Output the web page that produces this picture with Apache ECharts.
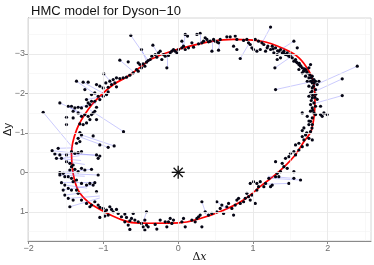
<!DOCTYPE html>
<html><head><meta charset="utf-8">
<script src="https://cdn.jsdelivr.net/npm/echarts@6/dist/echarts.min.js"></script>
<style>html,body{margin:0;padding:0;background:#fff}#c{width:374px;height:265px}</style>
</head><body><div id="c"></div>
<script>
const chartTitle = 'HMC model for Dyson\u221210';
const xTicks = [-2, -1, 0, 1, 2];
const yTicks = [-3, -2, -1, 0, 1];
const xMinor = [-1.5, -0.5, 0.5, 1.5, 2.5];
const yMinor = [-3.5, -2.5, -1.5, -0.5, 0.5, 1.5];

// fitted orbit
const orbitX = [-0.375,-0.151,0.116,0.45,0.740,1.12,1.436,1.616,1.75,1.817,1.83,1.784,1.683,1.549,1.348,1.124,0.874,0.606,0.295,0.004,-0.375,-0.58,-0.80,-1.027,-1.205,-1.339,-1.406,-1.428,-1.361,-1.205,-1.071,-0.870,-0.669,-0.375];
const orbitY = [-2.86,-3.03,-3.18,-3.32,-3.37,-3.32,-3.11,-2.90,-2.56,-2.22,-1.80,-1.07,-0.78,-0.40,-0.015,0.32,0.70,0.96,1.17,1.28,1.29,1.28,1.17,0.96,0.75,0.45,0.025,-0.48,-1.07,-1.59,-1.886,-2.22,-2.44,-2.86];

// observations
const obs = [
[-0.634,-3.468],[-0.491,-3.112],[-0.781,-2.842],[-0.669,-2.799],[-0.535,-2.774],[-0.513,-2.732],[-0.469,-2.748],[-0.424,-2.791],[-0.402,-2.833],[-0.446,-2.689],[-0.491,-2.647],[-0.558,-2.605],[-0.535,-2.562],[-0.602,-2.520],[-0.647,-2.461],[-0.692,-2.410],[-0.736,-2.393],[-0.781,-2.376],[-0.995,-2.495],[-0.826,-2.393],[-0.870,-2.351],[-0.848,-2.266],[-0.915,-2.309],[-0.892,-2.224],[-0.937,-2.156],[-0.826,-2.165],[-0.968,-2.266],[-1.004,-2.139],[-1.049,-2.182],[-1.093,-2.224],[-1.361,-2.309],[-1.272,-2.283],[-1.205,-2.283],[-1.249,-2.097],[-1.160,-1.970],[-1.116,-2.012],[-1.071,-1.928],[-1.004,-1.928],[-0.959,-1.970],[-0.937,-2.038],[-1.584,-1.759],[-1.472,-1.674],[-1.428,-1.674],[-1.383,-1.632],[-1.339,-1.649],[-1.294,-1.632],[-1.227,-1.674],[-1.182,-1.716],[-1.160,-1.801],[-1.227,-1.843],[-1.205,-1.759],[-1.116,-1.801],[-1.049,-1.843],[-1.093,-1.649],[-1.116,-1.547],[-1.138,-1.505],[-1.807,-1.522],[-1.406,-1.547],[-1.339,-1.505],[-1.294,-1.420],[-1.249,-1.463],[-1.205,-1.420],[-1.160,-1.463],[-1.093,-1.336],[-1.182,-1.336],[-1.227,-1.251],[-1.272,-1.209],[-1.317,-1.226],[-1.495,-1.395],[-1.406,-1.378],[-1.495,-1.209],[-0.732,-1.03],
[-0.339,-3.222],[-0.375,-2.858],[-0.353,-2.943],[-0.308,-2.985],[-0.286,-2.918],[-0.263,-3.028],[-0.241,-3.070],[-0.219,-2.858],[-0.196,-2.985],[-0.174,-2.943],[-0.130,-2.960],[-0.152,-2.647],[-0.107,-3.028],[-0.085,-3.070],[-0.063,-3.112],[-0.040,-3.070],[-0.018,-3.028],[0.004,-3.112],[0.049,-3.324],[0.049,-3.155],[0.071,-3.197],[0.094,-3.493],[0.125,-3.451],[0.094,-3.112],[0.138,-3.155],[0.183,-3.281],[0.205,-3.172],[0.250,-3.493],[0.294,-3.518],[0.272,-3.256],[0.317,-3.281],[0.339,-3.324],[0.361,-3.409],[0.384,-3.366],[0.406,-3.307],[0.428,-3.324],[0.451,-3.070],[0.473,-3.366],[0.495,-3.324],[0.517,-3.307],[0.540,-3.281],[0.540,-3.095],[0.562,-3.366],[0.651,-3.434],[0.696,-3.434],[0.763,-3.451],[0.785,-3.366],[0.741,-3.197],[0.785,-3.112],[0.830,-2.884],[0.875,-3.341],[0.919,-3.366],[0.941,-3.281],[0.964,-3.239],[0.986,-3.155],[1.008,-3.112],[1.031,-3.366],[1.053,-3.070],[1.075,-3.324],[1.098,-3.112],[1.120,-3.281],
[1.236,-3.679],[1.548,-3.324],[1.593,-3.155],[1.146,-3.239],[1.191,-3.155],[1.169,-3.070],[1.236,-3.112],[1.258,-3.197],[1.303,-3.155],[1.280,-3.028],[1.325,-2.985],[1.347,-3.070],[1.369,-3.112],[1.392,-3.028],[1.414,-3.070],[1.436,-2.985],[1.459,-3.028],[1.481,-2.943],[1.325,-2.858],[1.369,-2.901],[1.503,-2.985],[1.526,-2.901],[1.548,-2.816],[1.570,-2.858],[1.593,-2.774],[1.615,-2.731],[1.637,-2.689],[1.660,-2.647],[1.615,-2.605],[1.682,-2.562],[1.704,-2.605],[1.726,-2.520],[1.749,-2.647],[1.771,-2.731],[1.660,-2.520],[1.704,-2.435],[1.749,-2.393],[1.794,-2.435],[1.816,-2.351],[1.838,-2.308],[1.883,-2.308],[1.860,-2.224],[1.794,-2.266],[1.771,-2.308],[1.727,-2.308],[1.749,-2.182],[1.794,-2.139],[1.838,-2.097],[1.771,-2.012],[1.749,-1.928],[1.794,-1.886],[1.816,-1.759],[1.771,-1.716],[1.794,-1.632],[1.838,-1.674],[1.905,-1.674],[1.950,-1.505],[1.994,-1.463],[1.927,-1.420],[1.905,-1.463],[1.838,-1.463],[1.816,-1.505],[1.794,-1.378],[1.771,-1.293],[1.749,-1.209],[1.794,-1.209],[1.660,-1.505],[1.727,-1.420],[1.682,-1.124],[1.303,-2.097],[2.396,-2.689],[2.195,-2.368],[2.195,-1.945],[1.294,-2.647],
[1.58,-2.80],[1.64,-2.70],[1.69,-2.62],[1.72,-2.55],[1.76,-2.47],[1.78,-2.40],[1.80,-2.33],[1.82,-2.26],[1.81,-2.18],[1.79,-2.05],[1.84,-1.98],[1.80,-1.95],[1.83,-1.90],[1.78,-1.82],[1.86,-1.85],[1.77,-1.55],[1.80,-1.57],[1.75,-1.30],[1.79,-1.12],[1.72,-1.00],[1.50,-2.93],[1.45,-2.98],[1.41,-3.02],[1.33,-3.08],[1.27,-3.13],[1.20,-3.20],[1.62,-2.76],[1.68,-2.58],
[-1.316,-1.006],[-1.294,-0.947],[-1.339,-0.862],[-1.361,-0.736],[-1.316,-0.778],[-1.138,-0.922],[-1.049,-0.693],[-0.937,-0.634],[-0.857,-0.668],[-1.606,-0.609],[-1.687,-0.549],[-1.651,-0.465],[-1.584,-0.440],[-1.629,-0.355],[-1.562,-0.355],[-1.495,-0.440],[-1.428,-0.524],[-1.383,-0.482],[-1.339,-0.499],[-1.294,-0.524],[-1.093,-0.440],[-1.049,-0.414],[-1.071,-0.355],[-1.495,-0.270],[-1.450,-0.228],[-1.428,-0.143],[-1.406,-0.186],[-1.450,-0.059],[-1.383,-0.076],[-1.339,-0.017],[-1.294,-0.101],[-1.249,-0.059],[-1.160,-0.076],[-1.071,0.068],[-1.584,0.009],[-1.539,0.026],[-1.584,0.068],[-1.517,0.110],[-1.472,0.110],[-1.428,0.153],[-1.406,0.237],[-1.361,0.195],[-1.294,0.280],[-1.227,0.322],[-1.182,0.280],[-1.138,0.322],[-1.116,0.263],[-1.093,0.491],[-1.562,0.263],[-1.517,0.322],[-1.472,0.406],[-1.539,0.449],[-1.428,0.449],[-1.361,0.449],[-1.339,0.533],[-1.517,0.576],[-1.472,0.660],[-1.406,0.703],[-1.450,0.872],[-1.294,0.703],[-1.227,0.787],[-1.182,0.872],[-1.160,0.830],[-1.116,0.745],[-1.071,0.830],[-1.049,0.889],[-1.004,0.914],[-0.959,0.957],[-0.982,0.999],[-0.915,0.872],[-0.892,0.940],[-0.870,0.999],[-0.826,0.940],[-0.803,1.041],[-0.937,1.083],[-1.049,1.143],[-0.982,1.109],[-0.759,1.126],[-0.714,1.058],[-0.692,1.143],[-0.647,1.227],[-0.625,1.168],[-0.602,1.041],[-0.580,1.210],[-0.714,1.253],[-0.669,1.337],[-0.647,1.447],[-0.535,1.253],[-0.491,1.295],[-0.469,1.380],[-0.424,0.999],[-0.446,1.210],[-0.402,1.380],[-0.446,1.464],[-0.424,1.337],
[-0.308,1.320],[-0.286,1.439],[-0.241,1.210],[-0.152,1.380],[-0.130,1.253],[-0.107,1.168],[-0.085,1.295],[-0.063,1.210],[-0.174,1.253],[0.071,1.168],[0.049,1.253],[0.094,1.380],[0.183,1.210],[0.227,1.253],[0.250,1.168],[0.272,1.126],[0.294,1.083],[0.317,1.380],[0.317,0.745],[0.361,0.999],[0.406,1.083],[0.451,1.041],[0.517,0.999],[0.517,0.745],[0.562,0.914],[0.584,0.830],[0.607,1.041],[0.651,0.872],[0.674,0.787],[0.718,0.914],[0.741,1.083],[0.763,0.830],[0.785,0.703],[0.808,0.660],[0.830,0.787],[0.875,0.745],[0.897,0.660],[0.941,0.618],[0.919,0.533],[0.964,0.703],[0.986,0.576],[0.964,0.280],[1.008,0.237],[1.053,0.280],[1.098,0.237],[1.075,0.364],[1.053,0.449],[1.031,0.787],
[1.146,0.364],[1.169,0.280],[1.213,0.153],[1.236,0.364],[1.258,0.322],[1.303,0.110],[1.325,0.026],[1.369,-0.017],[1.347,0.110],[1.481,0.280],[1.548,-0.017],[1.548,0.153],[1.637,0.195],[1.303,-0.270],[1.392,-0.228],[1.414,-0.143],[1.459,-0.101],[1.436,-0.355],[1.481,-0.397],[1.503,-0.482],[1.548,-0.524],[1.570,-0.440],[1.615,-0.566],[1.570,-0.693],[1.615,-0.736],[1.660,-0.651],[1.682,-0.820],[1.660,-0.905],[1.704,-0.947],[1.749,-0.862],[1.771,-1.032],[1.727,-0.693],[1.794,-0.820],[1.660,-1.057]
];

// residual segments: observed -> model position
const residFrom = [[-0.634,-3.468],[-0.491,-3.112],[-0.781,-2.842],[-0.995,-2.495],[-1.361,-2.309],[-1.272,-2.283],[-1.584,-1.759],[-1.472,-1.674],[-1.807,-1.522],[-0.732,-1.03],[-0.857,-0.668],[-0.937,-0.634],[-1.687,-0.549],[-1.651,-0.465],[-1.606,-0.609],[-1.584,0.009],[-1.539,0.026],[-1.562,0.263],[-1.450,0.872],[-1.472,0.660],[-1.539,0.449],[-0.424,0.999],[0.317,0.745],[0.517,0.745],[1.637,0.195],[1.548,0.153],[1.481,0.280],[1.236,-3.679],[1.548,-3.324],[1.294,-2.647],[2.396,-2.689],[2.195,-2.368],[2.195,-1.945],[1.303,-2.097],[-0.152,-2.647],[-0.339,-3.222],[0.830,-2.884],[0.094,-3.493],[0.294,-3.518],[0.451,-3.070],[0.540,-3.095],[0.049,-3.324],[-1.517,0.576],[-1.629,-0.355],[-1.495,-0.270],[-1.562,-0.355],[-1.227,-1.843],[-1.339,-1.649],[-1.584,0.068],[-1.517,0.322]];
const residTo = [[-0.40,-2.83],[-0.42,-2.80],[-0.60,-2.55],[-0.88,-2.24],[-1.07,-1.93],[-1.0,-2.0],[-1.24,-1.45],[-1.26,-1.40],[-1.423,-0.65],[-1.18,-1.58],[-1.30,-0.95],[-1.32,-0.90],[-1.049,-0.414],[-1.093,-0.440],[-1.40,-0.62],[-1.160,-0.076],[-1.071,0.068],[-1.116,0.263],[-1.049,0.65],[-1.05,0.60],[-1.138,0.322],[-0.47,1.27],[0.38,1.10],[0.67,0.95],[1.22,0.15],[1.20,0.10],[1.15,0.30],[1.13,-3.31],[1.38,-3.12],[1.55,-2.98],[1.82,-2.20],[1.83,-2.05],[1.83,-1.75],[1.79,-2.30],[-0.15,-3.02],[-0.26,-2.97],[0.96,-3.30],[0.07,-3.15],[0.29,-3.25],[0.45,-3.32],[0.56,-3.33],[0.05,-3.14],[-1.20,0.50],[-1.30,-0.30],[-1.25,-0.20],[-1.32,-0.42],[-1.02,-1.92],[-1.10,-1.75],[-1.25,0.10],[-1.22,0.40]];

const centerPt = [[0, 0]];
const starAngles = [0, 45, 90, 135];

const minus = v => String(v).replace('-', '\u2212');
const chart = echarts.init(document.getElementById('c'), null, {renderer: 'canvas'});
const gridMarks = [
  ...xMinor.map(v => ({xAxis: v, lineStyle: {color: '#f4f4f4', width: 0.6, type: 'solid'}})),
  ...yMinor.map(v => ({yAxis: v, lineStyle: {color: '#f4f4f4', width: 0.6, type: 'solid'}})),
  ...xTicks.map(v => ({xAxis: v, lineStyle: {color: '#e8e8e8', width: 0.9, type: 'solid'}})),
  ...yTicks.map(v => ({yAxis: v, lineStyle: {color: '#e8e8e8', width: 0.9, type: 'solid'}}))
];
chart.setOption({
  animation: false,
  backgroundColor: '#fff',
  title: {text: chartTitle, left: 26, top: 0, textStyle: {fontFamily: 'Liberation Sans', fontSize: 13, fontWeight: 'normal', color: '#111'}},
  grid: {left: 28, right: 3, top: 18, bottom: 24, show: true, borderColor: '#d6d6d6', borderWidth: 1, backgroundColor: '#fff', containLabel: false, outerBoundsMode: 'none'},
  xAxis: {
    type: 'value', min: -2.01, max: 2.58,
    name: 'Δ{i|x}', nameLocation: 'middle', nameGap: 11, nameMoveOverlap: false,
    nameTextStyle: {fontFamily: 'DejaVu Serif', fontSize: 11, color: '#111', rich: {i: {fontStyle: 'italic', fontFamily: 'DejaVu Serif', fontSize: 11, color: '#111'}}},
    axisLine: {show: true, onZero: false, lineStyle: {color: '#8a8a8a', width: 1}},
    axisTick: {show: true, length: 3, customValues: xTicks, lineStyle: {color: '#8a8a8a'}},
    axisLabel: {customValues: xTicks, formatter: minus, color: '#6e6e6e', fontSize: 9, margin: 3, fontFamily: 'Liberation Sans'},
    splitLine: {show: false}
  },
  yAxis: {
    type: 'value', min: -3.91, max: 1.74, inverse: true,
    name: 'Δy', nameLocation: 'middle', nameGap: 15, nameRotate: 90, nameMoveOverlap: false,
    nameTextStyle: {fontFamily: 'Liberation Sans', fontSize: 11, color: '#111'},
    axisLine: {show: true, onZero: false, lineStyle: {color: '#8a8a8a', width: 1}},
    axisTick: {show: true, length: 3, customValues: yTicks, lineStyle: {color: '#8a8a8a'}},
    axisLabel: {customValues: yTicks, formatter: minus, color: '#6e6e6e', fontSize: 9, margin: 3, fontFamily: 'Liberation Sans'},
    splitLine: {show: false}
  },
  series: [
    {type: 'line', data: [], silent: true, z: 0,
     markLine: {silent: true, symbol: ['none', 'none'], label: {show: false}, animation: false, data: gridMarks}},
    {type: 'line', data: orbitX.map((x, i) => [x, orbitY[i]]), smooth: 0.4, showSymbol: false, z: 2,
     lineStyle: {color: '#ff0000', width: 1.7}},
    {type: 'lines', coordinateSystem: 'cartesian2d', z: 3, silent: true,
     data: residFrom.map((p, i) => ({coords: [p, residTo[i]]})),
     lineStyle: {color: 'rgba(110,110,250,0.45)', width: 0.8, opacity: 1}},
    {type: 'scatter', data: obs, symbol: 'circle', symbolSize: 3.2, z: 4,
     itemStyle: {color: '#050514', opacity: 1}},
    {type: 'scatter', z: 5, data: starAngles.map(a => ({value: centerPt[0], symbolRotate: a})),
     symbol: 'rect', symbolSize: [1.3, 13], itemStyle: {color: '#111', opacity: 1}}
  ]
});
</script></body></html>
